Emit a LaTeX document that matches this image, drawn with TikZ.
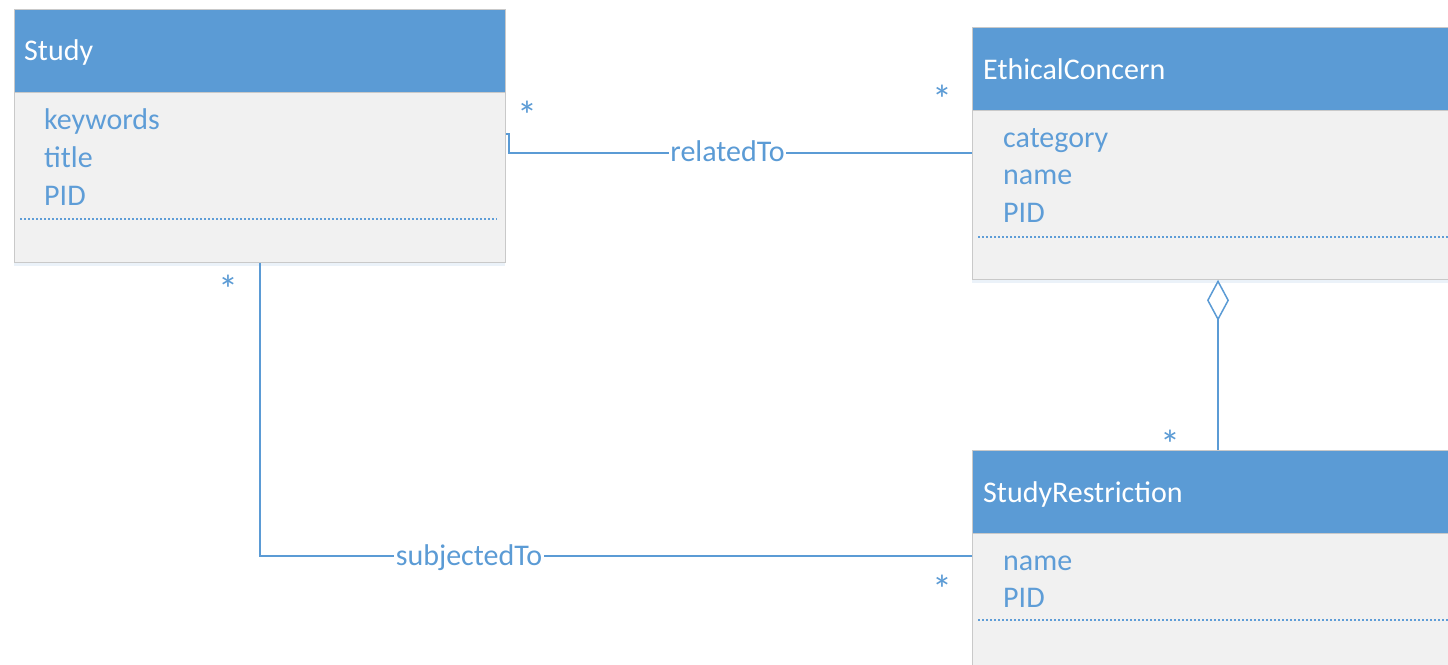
\documentclass[tikz,border=0pt]{standalone}
\usepackage{fontspec}
\setmainfont{Carlito}
\usetikzlibrary{arrows.meta,calc,shadows}

\definecolor{umlblue}{HTML}{5B9BD5}
\definecolor{umlbody}{HTML}{F1F1F1}
\definecolor{umledge}{HTML}{C9C9C9}
\definecolor{umltext}{HTML}{5E9DD7}

\newcommand{\umlfont}{\fontsize{30}{36}\selectfont}
\newcommand{\multfont}{\fontsize{40}{48}\selectfont}

\tikzset{
  headbox/.style={draw=umledge, fill=umlblue, line width=0.8pt, anchor=north west,
    minimum height=83pt, inner sep=0pt},
  bodybox/.style={draw=umledge, fill=umlbody, line width=0.8pt, anchor=north west,
    inner sep=0pt, drop shadow={shadow xshift=0pt, shadow yshift=-4pt, opacity=0.12, fill=umlblue}},
  classname/.style={text=white, anchor=base west, inner sep=0pt, font=\umlfont},
  attr/.style={text=umltext, anchor=base west, inner sep=0pt, font=\umlfont},
  sepline/.style={umltext, line width=1.8pt, dash pattern=on 2.4pt off 1.6pt},
  link/.style={umlblue, line width=1.5pt},
  linklabel/.style={text=umlblue, fill=white, anchor=base, inner xsep=1.5pt,
    inner ysep=0pt, font=\umlfont},
  mult/.style={text=umlblue, anchor=base, inner sep=0pt, font=\multfont}
}

\begin{document}
\begin{tikzpicture}[x=1pt, y=-1pt]
  \useasboundingbox (0,0) rectangle (1448,664);
  \clip (0,0) rectangle (1448,664);
  \fill[white] (0,0) rectangle (1448,664);

  % class Study
  \node[bodybox, minimum width=491pt, minimum height=170pt] (study_body) at (14,92) {};
  \node[headbox, minimum width=491pt] (study_head) at (14,9) {};
  \node[classname] (study_name) at (24,60) {Study};
  \node[attr] (study_a1) at (44,129) {keywords};
  \node[attr] (study_a2) at (44,167) {title};
  \node[attr] (study_a3) at (44,205) {PID};
  \draw[sepline] (20,219) -- (497,219);

  % class EthicalConcern
  \node[bodybox, minimum width=490pt, minimum height=169pt] (ec_body) at (972,110) {};
  \node[headbox, minimum width=490pt] (ec_head) at (972,27) {};
  \node[classname] (ec_name) at (983,79) {EthicalConcern};
  \node[attr] (ec_a1) at (1003,147) {category};
  \node[attr] (ec_a2) at (1003,184) {name};
  \node[attr] (ec_a3) at (1003,222) {PID};
  \draw[sepline] (978,237) -- (1460,237);

  % class StudyRestriction
  \node[bodybox, minimum width=490pt, minimum height=150pt] (sr_body) at (972,533) {};
  \node[headbox, minimum width=490pt] (sr_head) at (972,450) {};
  \node[classname] (sr_name) at (983,502) {StudyRestriction};
  \node[attr] (sr_a1) at (1003,570) {name};
  \node[attr] (sr_a2) at (1003,607) {PID};
  \draw[sepline] (978,620) -- (1460,620);

  % association relatedTo
  \coordinate (relA) at ($(study_body.north east)+(0,42)$);
  \coordinate (relB) at ($(ec_body.north west)+(0,43)$);
  \draw[link] (relA) -- ++(3,0) |- (relB);
  \node[linklabel] (rel_label) at (727.5,161) {relatedTo};
  \node[mult] (rel_m1) at (527,129) {*};
  \node[mult] (rel_m2) at (942,113) {*};

  % association subjectedTo
  \coordinate (subB) at ($(sr_body.north west)+(0,23)$);
  \draw[link] (study_body.south) |- (subB);
  \node[linklabel] (sub_label) at (469,565) {subjectedTo};
  \node[mult] (sub_m1) at (228,303) {*};
  \node[mult] (sub_m2) at (942,603) {*};

  % aggregation EthicalConcern <>-- StudyRestriction
  \coordinate (aggTop) at ($(ec_body.south west)+(246,0)$);
  \draw[link, -{Diamond[open, length=41pt, width=22pt]}] (sr_head.north west -| aggTop) -- (aggTop);
  \node[mult] (agg_m) at (1170,458) {*};
\end{tikzpicture}
\end{document}
